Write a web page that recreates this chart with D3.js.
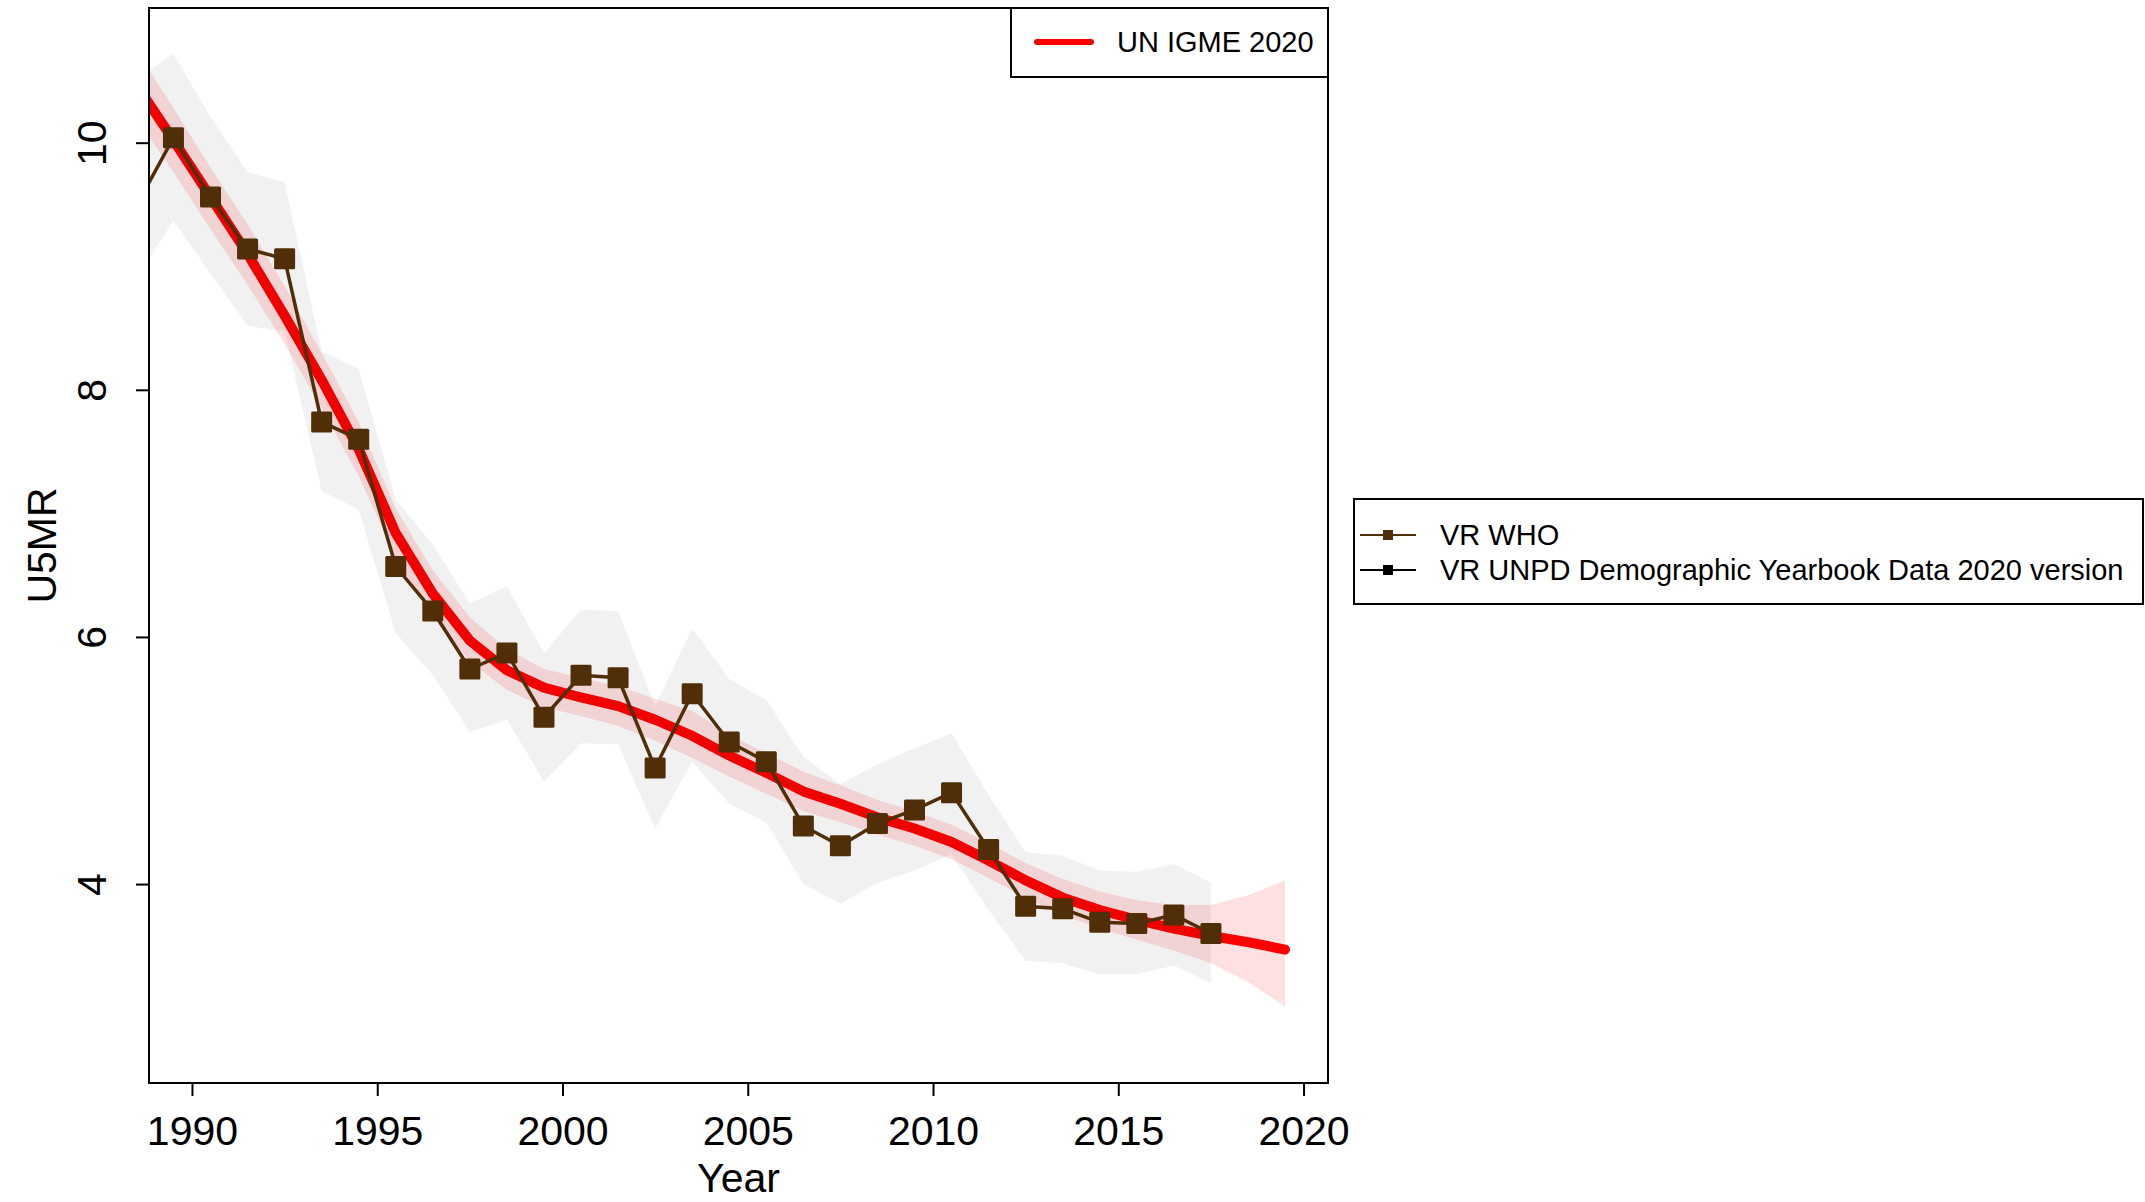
<!DOCTYPE html>
<html>
<head>
<meta charset="utf-8">
<script src="https://cdn.jsdelivr.net/npm/d3@7"></script>
<style>
  body { margin: 0; background: #fff; }
  svg { display: block; font-family: "Liberation Sans", Arial, Helvetica, sans-serif; }
</style>
</head>
<body>
<div id="chart"></div>
<script>
// data ---------------------------------------------------------------------------------------
const whoYears = [1988.5, 1989.5, 1990.5, 1991.5, 1992.5, 1993.5, 1994.5, 1995.5, 1996.5, 1997.5,
  1998.5, 1999.5, 2000.5, 2001.5, 2002.5, 2003.5, 2004.5, 2005.5, 2006.5, 2007.5, 2008.5,
  2009.5, 2010.5, 2011.5, 2012.5, 2013.5, 2014.5, 2015.5, 2016.5, 2017.5];
const whoValues = [9.49, 10.04, 9.56, 9.14, 9.06, 7.74, 7.60, 6.57, 6.21, 5.74,
  5.87, 5.35, 5.69, 5.67, 4.94, 5.54, 5.15, 4.99, 4.47, 4.31, 4.49,
  4.60, 4.74, 4.28, 3.82, 3.80, 3.69, 3.68, 3.75, 3.60];
const whoLower = [8.90, 9.37, 8.94, 8.52, 8.47, 7.18, 7.03, 6.03, 5.69, 5.23,
  5.33, 4.83, 5.14, 5.13, 4.45, 4.99, 4.65, 4.50, 4.00, 3.84, 4.01,
  4.11, 4.24, 3.79, 3.38, 3.36, 3.27, 3.27, 3.34, 3.20];
const whoUpper = [10.51, 10.72, 10.21, 9.76, 9.68, 8.31, 8.17, 7.11, 6.75, 6.27,
  6.41, 5.87, 6.22, 6.21, 5.44, 6.07, 5.66, 5.49, 5.03, 4.81, 4.97,
  5.10, 5.22, 4.72, 4.26, 4.23, 4.11, 4.10, 4.16, 4.01];

const igmeYears = [1988.5, 1989.5, 1990.5, 1991.5, 1992.5, 1993.5, 1994.5, 1995.5, 1996.5, 1997.5,
  1998.5, 1999.5, 2000.5, 2001.5, 2002.5, 2003.5, 2004.5, 2005.5, 2006.5, 2007.5, 2008.5,
  2009.5, 2010.5, 2011.5, 2012.5, 2013.5, 2014.5, 2015.5, 2016.5, 2017.5, 2018.5, 2019.5];
const igmeMedian = [10.47, 10.02, 9.56, 9.10, 8.60, 8.08, 7.52, 6.84, 6.35, 5.97,
  5.73, 5.59, 5.51, 5.44, 5.33, 5.20, 5.04, 4.90, 4.75, 4.65, 4.54,
  4.45, 4.34, 4.19, 4.03, 3.89, 3.79, 3.71, 3.64, 3.58, 3.53, 3.47];
const igmeLower = [10.20, 9.76, 9.30, 8.85, 8.37, 7.85, 7.30, 6.64, 6.16, 5.80,
  5.57, 5.43, 5.36, 5.28, 5.16, 5.02, 4.87, 4.73, 4.59, 4.50, 4.40,
  4.31, 4.20, 4.05, 3.89, 3.75, 3.64, 3.55, 3.46, 3.36, 3.21, 3.01];
const igmeUpper = [10.75, 10.28, 9.80, 9.34, 8.84, 8.30, 7.74, 7.04, 6.54, 6.16,
  5.90, 5.74, 5.67, 5.60, 5.50, 5.40, 5.21, 5.06, 4.91, 4.80, 4.68,
  4.59, 4.48, 4.33, 4.17, 4.04, 3.94, 3.87, 3.83, 3.83, 3.91, 4.03];

const xTicks = [1990, 1995, 2000, 2005, 2010, 2015, 2020];
const yTicks = [4, 6, 8, 10];
const legendIn = ['UN IGME 2020'];
const legendOut = ['VR WHO', 'VR UNPD Demographic Yearbook Data 2020 version'];

// layout -------------------------------------------------------------------------------------
const width = 2145;
const height = 1202;
const plot = { left: 149, right: 1328, top: 8, bottom: 1083 };
const brown = '#502e07';

const svg = d3.select('#chart').append('svg')
  .attr('width', width)
  .attr('height', height);

const x = d3.scaleLinear().domain([1988.84, 2020.66]).range([plot.left, plot.right]);
const y = d3.scaleLinear().domain([2.39, 11.09]).range([plot.bottom, plot.top]);

svg.append('clipPath')
  .attr('id', 'plot-clip')
  .append('rect')
  .attr('x', plot.left)
  .attr('y', plot.top)
  .attr('width', plot.right - plot.left)
  .attr('height', plot.bottom - plot.top);

const g = svg.append('g').attr('clip-path', 'url(#plot-clip)');

const who = whoYears.map((yr, i) => ({ x: yr, v: whoValues[i], lo: whoLower[i], hi: whoUpper[i] }));
const igme = igmeYears.map((yr, i) => ({ x: yr, v: igmeMedian[i], lo: igmeLower[i], hi: igmeUpper[i] }));

const band = d3.area()
  .x(d => x(d.x))
  .y0(d => y(d.lo))
  .y1(d => y(d.hi));

const line = d3.line()
  .x(d => x(d.x))
  .y(d => y(d.v));

// UN IGME band + line ---------------------------------------------------------------------------
g.append('path')
  .datum(igme)
  .attr('d', band)
  .attr('fill', 'rgba(255,0,0,0.12)');

g.append('path')
  .datum(igme)
  .attr('d', line)
  .attr('fill', 'none')
  .attr('stroke', '#ff0000')
  .attr('stroke-width', 10)
  .attr('stroke-linejoin', 'round')
  .attr('stroke-linecap', 'round');

// VR WHO band (drawn over the estimate) ---------------------------------------------------------
g.append('path')
  .datum(who)
  .attr('d', band)
  .attr('fill', 'rgba(0,0,0,0.056)');

// VR WHO line + points ---------------------------------------------------------------------------
g.append('path')
  .datum(who)
  .attr('d', line)
  .attr('fill', 'none')
  .attr('stroke', brown)
  .attr('stroke-width', 3.5);

const ms = 21;
g.selectAll('rect.pt')
  .data(who)
  .enter()
  .append('rect')
  .attr('class', 'pt')
  .attr('x', d => x(d.x) - ms / 2)
  .attr('y', d => y(d.v) - ms / 2)
  .attr('width', ms)
  .attr('height', ms)
  .attr('rx', 1.5)
  .attr('fill', brown);

// box and axes ----------------------------------------------------------------------------------
svg.append('rect')
  .attr('x', plot.left)
  .attr('y', plot.top)
  .attr('width', plot.right - plot.left)
  .attr('height', plot.bottom - plot.top)
  .attr('fill', 'none')
  .attr('stroke', '#000')
  .attr('stroke-width', 2);

const xAxis = svg.append('g')
  .attr('transform', 'translate(0,' + plot.bottom + ')')
  .call(d3.axisBottom(x).tickValues(xTicks).tickSize(13).tickPadding(20).tickFormat(d3.format('d')));
xAxis.select('.domain').remove();
xAxis.selectAll('line').attr('stroke-width', 2);
xAxis.selectAll('text').attr('font-size', 41).attr('font-family', null).attr('fill', '#000');

const yAxis = svg.append('g')
  .attr('transform', 'translate(' + plot.left + ',0)')
  .call(d3.axisLeft(y).tickValues(yTicks).tickSize(13).tickFormat(d3.format('d')));
yAxis.select('.domain').remove();
yAxis.selectAll('line').attr('stroke-width', 2);
yAxis.selectAll('text')
  .attr('font-size', 41)
  .attr('font-family', null)
  .attr('fill', '#000')
  .attr('x', null)
  .attr('dy', null)
  .attr('text-anchor', 'middle')
  .attr('transform', 'translate(-43,0) rotate(-90)');

svg.append('text')
  .attr('x', (plot.left + plot.right) / 2)
  .attr('y', 1192)
  .attr('text-anchor', 'middle')
  .attr('font-size', 41)
  .text('Year');

svg.append('text')
  .attr('transform', 'translate(56,' + ((plot.top + plot.bottom) / 2) + ') rotate(-90)')
  .attr('text-anchor', 'middle')
  .attr('font-size', 41)
  .text('U5MR');

// legends -------------------------------------------------------------------------------------
const lg1 = svg.append('g');
lg1.append('rect')
  .attr('x', 1011)
  .attr('y', plot.top)
  .attr('width', plot.right - 1011)
  .attr('height', 69)
  .attr('fill', '#fff')
  .attr('stroke', '#000')
  .attr('stroke-width', 2);
lg1.selectAll('line')
  .data(legendIn)
  .enter()
  .append('line')
  .attr('x1', 1037)
  .attr('x2', 1091)
  .attr('y1', 42)
  .attr('y2', 42)
  .attr('stroke', '#ff0000')
  .attr('stroke-width', 6)
  .attr('stroke-linecap', 'round');
lg1.selectAll('text')
  .data(legendIn)
  .enter()
  .append('text')
  .attr('x', 1117)
  .attr('y', 52)
  .attr('font-size', 29)
  .text(d => d);

const lg2 = svg.append('g');
lg2.append('rect')
  .attr('x', 1354)
  .attr('y', 499)
  .attr('width', 789)
  .attr('height', 105)
  .attr('fill', '#fff')
  .attr('stroke', '#000')
  .attr('stroke-width', 2);
const rows = lg2.selectAll('g.row')
  .data(legendOut)
  .enter()
  .append('g')
  .attr('class', 'row')
  .attr('transform', (d, i) => 'translate(0,' + (535 + i * 35) + ')');
rows.append('line')
  .attr('x1', 1360)
  .attr('x2', 1416)
  .attr('stroke', (d, i) => i === 0 ? brown : '#000')
  .attr('stroke-width', 2);
rows.append('rect')
  .attr('x', 1383)
  .attr('y', -5)
  .attr('width', 10)
  .attr('height', 10)
  .attr('fill', (d, i) => i === 0 ? brown : '#000');
rows.append('text')
  .attr('x', 1440)
  .attr('y', 10)
  .attr('font-size', 29)
  .text(d => d);
</script>
</body>
</html>
